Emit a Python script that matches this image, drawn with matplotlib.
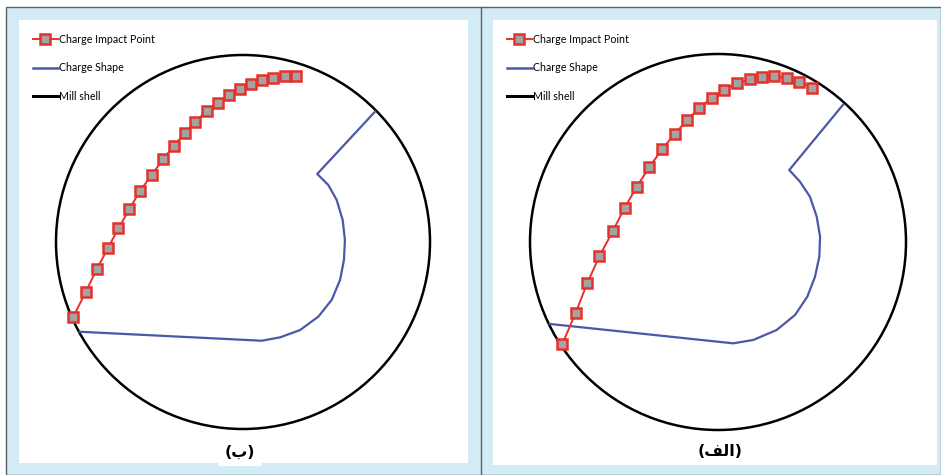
import matplotlib.pyplot as plt
from matplotlib.patches import Rectangle, Circle
from matplotlib.lines import Line2D

W, H = 941, 475

# mill shell radius (coordinates below are normalised by it)
mill_radius = 1.0

# panel (ب) - left
impact_x_b = [-0.907, -0.841, -0.782, -0.723, -0.666, -0.608, -0.551, -0.488, -0.429, -0.369, -0.310,
              -0.255, -0.194, -0.132, -0.073, -0.014, 0.045, 0.104, 0.162, 0.223, 0.284]
impact_y_b = [-0.400, -0.266, -0.146, -0.034, 0.073, 0.175, 0.273, 0.358, 0.442, 0.515, 0.584,
              0.643, 0.701, 0.745, 0.784, 0.816, 0.845, 0.866, 0.878, 0.886, 0.886]
shape_x_b = [0.706, 0.397, 0.456, 0.501, 0.533, 0.545, 0.540, 0.519, 0.474, 0.403, 0.305, 0.198, 0.100, -0.872]
shape_y_b = [0.697, 0.364, 0.305, 0.225, 0.118, 0.011, -0.096, -0.203, -0.310, -0.399, -0.471, -0.510, -0.528, -0.480]

# panel (الف) - right
impact_x_a = [-0.828, -0.757, -0.695, -0.631, -0.560, -0.496, -0.432, -0.365, -0.296, -0.230, -0.163,
              -0.099, -0.032, 0.034, 0.101, 0.169, 0.232, 0.299, 0.365, 0.432, 0.502]
impact_y_a = [-0.543, -0.376, -0.218, -0.076, 0.057, 0.183, 0.294, 0.399, 0.495, 0.576, 0.649,
              0.714, 0.767, 0.809, 0.844, 0.865, 0.878, 0.881, 0.871, 0.850, 0.821]
shape_x_a = [0.665, 0.379, 0.436, 0.489, 0.525, 0.543, 0.539, 0.516, 0.475, 0.410, 0.312, 0.188, 0.081, -0.894]
shape_y_a = [0.730, 0.383, 0.321, 0.241, 0.135, 0.028, -0.078, -0.185, -0.291, -0.388, -0.468, -0.521, -0.539, -0.436]

legend_labels = ['Charge Impact Point', 'Charge Shape', 'Mill shell']

# matplotlib does no arabic shaping/bidi, so the panel labels are written
# in visual order with presentation forms
label_b = '(\ufe8f)'                 # (ب)
label_a = '(\ufed2\ufedf\ufe8d)'     # (الف)

RED = '#e5312b'
BLUE = '#4a58a8'
FRAME = '#d3ebf4'
EDGE = '#55636b'
GREY = '#a3a3a3'

fig = plt.figure(figsize=(W / 100, H / 100), dpi=100, facecolor='white')


def px_rect(x0, y0, x1, y1, **kw):
    # rectangle given in image pixels (y down), kept behind the axes
    r = Rectangle((x0 / W, 1 - y1 / H), (x1 - x0) / W, (y1 - y0) / H,
                  transform=fig.transFigure, zorder=-5, **kw)
    fig.patches.append(r)


# light blue frames and the white panel interiors
px_rect(5.5, 6.5, 941, 475, fc=FRAME, ec=EDGE, lw=1)
fig.add_artist(Line2D([480.5 / W, 480.5 / W], [0, 1 - 6.5 / H], transform=fig.transFigure,
                      color=EDGE, lw=1, zorder=-4))
px_rect(19, 20, 468, 463, fc='white', ec='none')
px_rect(493, 20, 937, 465, fc='white', ec='none')


def panel(box, centre, R, ix, iy, sx, sy, label, label_x, label_box):
    x0, y0, x1, y1 = box
    cx, cy = centre
    ax = fig.add_axes([x0 / W, 1 - y1 / H, (x1 - x0) / W, (y1 - y0) / H])
    ax.set_xlim((x0 - cx) / R, (x1 - cx) / R)
    ax.set_ylim((cy - y1) / R, (cy - y0) / R)
    ax.axis('off')

    ax.add_patch(Circle((0, 0), mill_radius, fill=False, ec='black', lw=1.8, zorder=2))
    ax.plot(sx, sy, color=BLUE, lw=1.6, zorder=3)
    ax.plot(ix, iy, color=RED, lw=1.4, marker='s', ms=6.6, mfc=GREY, mec=RED, mew=1.8,
            zorder=4)

    handles = [
        Line2D([], [], color=RED, lw=1.4, marker='s', ms=6.6, mfc=GREY, mec=RED, mew=1.8),
        Line2D([], [], color=BLUE, lw=1.8),
        Line2D([], [], color='black', lw=2.2),
    ]
    ax.legend(handles, legend_labels, loc='upper left', frameon=False,
              bbox_to_anchor=((x0 + 14) / W, 1 - 34 / H), bbox_transform=fig.transFigure,
              borderaxespad=0, borderpad=0, handlelength=2.3, handletextpad=0.15,
              labelspacing=1.62, prop={'family': 'Lato', 'size': 7.7})

    bbox = dict(fc='white', ec='none', pad=5) if label_box else None
    fig.text(label_x / W, 1 - 452 / H, label, ha='center', va='center',
             fontsize=11.5, fontweight='bold', family='DejaVu Sans', bbox=bbox)


panel((19, 20, 468, 463), (243, 242), 187, impact_x_b, impact_y_b, shape_x_b, shape_y_b,
      label_b, 240, True)
panel((493, 20, 937, 465), (718, 242), 188, impact_x_a, impact_y_a, shape_x_a, shape_y_a,
      label_a, 720, False)

fig.savefig('out.png', dpi=100, facecolor='white')
